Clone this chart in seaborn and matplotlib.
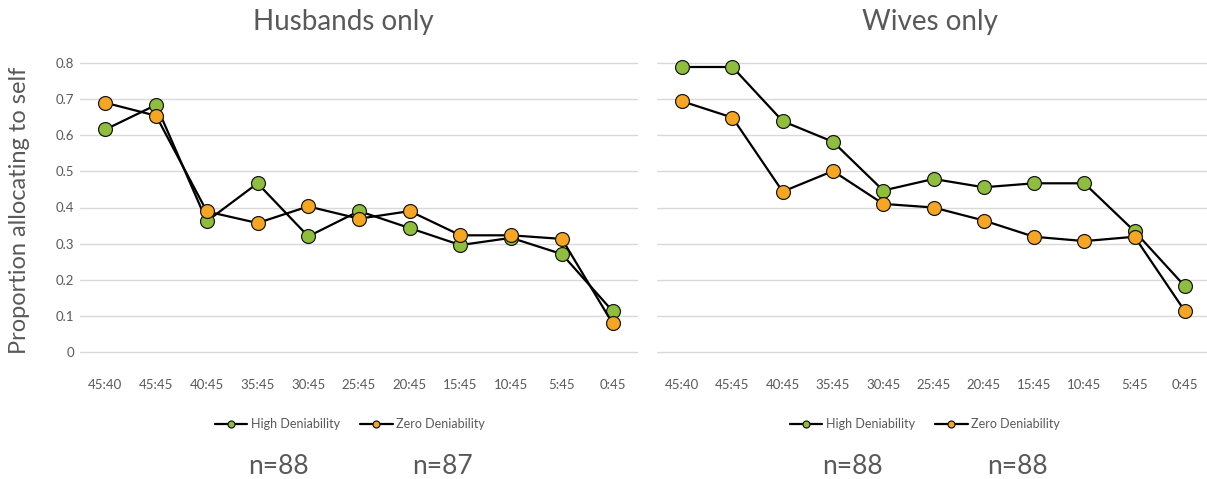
import matplotlib
matplotlib.use("Agg")
import matplotlib.pyplot as plt
import seaborn as sns
import pandas as pd

categories = ["45:40", "45:45", "40:45", "35:45", "30:45", "25:45",
              "20:45", "15:45", "10:45", "5:45", "0:45"]

husbands_high = [0.616, 0.684, 0.362, 0.467, 0.320, 0.390, 0.343, 0.296, 0.316, 0.271, 0.113]
husbands_zero = [0.690, 0.654, 0.389, 0.357, 0.403, 0.369, 0.390, 0.323, 0.323, 0.313, 0.079]
wives_high = [0.789, 0.789, 0.639, 0.582, 0.447, 0.479, 0.456, 0.467, 0.467, 0.334, 0.182]
wives_zero = [0.694, 0.649, 0.444, 0.501, 0.410, 0.400, 0.364, 0.319, 0.307, 0.319, 0.113]

panel_titles = ["Husbands only", "Wives only"]
series_names = ["High Deniability", "Zero Deniability"]
n_labels = [["n=88", "n=87"], ["n=88", "n=88"]]
y_ticks = [0, 0.1, 0.2, 0.3, 0.4, 0.5, 0.6, 0.7, 0.8]
y_label = "Proportion allocating to self"

GREEN = "#8FBE3F"
ORANGE = "#F6A623"
GRAY = "#595959"
GRID = "#D9D9D9"

sns.set_theme(style="white")
plt.rcParams["font.family"] = ["Lato", "DejaVu Sans"]

W, H = 1207, 479
fig = plt.figure(figsize=(W / 100, H / 100), dpi=100)

def fx(px):
    return px / W

def fy(py):
    return 1 - py / H

ax_bottom = fy(359.2)
ax_height = fy(55.8) - fy(359.2)
axes = [
    fig.add_axes([fx(80), ax_bottom, fx(638 - 80), ax_height]),
    fig.add_axes([fx(657), ax_bottom, fx(1207 - 657), ax_height]),
]

panels = [(husbands_high, husbands_zero), (wives_high, wives_zero)]
for i, (ax, (hi, zr)) in enumerate(zip(axes, panels)):
    df = pd.DataFrame({"cond": categories + categories,
                       "val": hi + zr,
                       "series": [series_names[0]] * len(categories) + [series_names[1]] * len(categories)})
    for name, col in zip(series_names, [GREEN, ORANGE]):
        sub = df[df["series"] == name]
        sns.lineplot(data=sub, x="cond", y="val", ax=ax, sort=False,
                     color="black", linewidth=1.6, marker="o", markersize=10,
                     markerfacecolor=col, markeredgecolor="#1a1a1a",
                     markeredgewidth=0.9, label=name, zorder=3)
    ax.set_ylim(-0.02, 0.82)
    if i == 0:
        ax.set_xlim(-0.5, 10.5)
    else:
        ax.set_xlim(-0.5, 10.44)
    ax.set_yticks(y_ticks)
    ax.set_yticklabels([f"{t:g}" for t in y_ticks])
    ax.yaxis.grid(True, color=GRID, linewidth=1.0)
    ax.xaxis.grid(False)
    ax.set_axisbelow(True)
    for s in ax.spines.values():
        s.set_visible(False)
    ax.tick_params(axis="both", length=0, labelsize=9.5, labelcolor=GRAY)
    ax.tick_params(axis="x", pad=14)
    ax.tick_params(axis="y", pad=4)
    ax.set_xlabel("")
    ax.set_ylabel("")
    if i == 1:
        ax.set_yticklabels([])
    leg_cx = 350 if i == 0 else 925
    leg = ax.legend(loc="center", bbox_to_anchor=(fx(leg_cx), fy(424)),
                    bbox_transform=fig.transFigure, ncol=2, frameon=False,
                    fontsize=9, markerscale=0.5, handlelength=2.6,
                    handletextpad=0.3, columnspacing=1.6,
                    labelcolor=GRAY)

fig.text(fx(343), fy(22), panel_titles[0], ha="center", va="center",
         fontsize=20, color=GRAY)
fig.text(fx(930), fy(22), panel_titles[1], ha="center", va="center",
         fontsize=20, color=GRAY)
fig.text(fx(20), fy(210), y_label, rotation=90, ha="center", va="center",
         fontsize=17, color=GRAY)

n_pos = [[278, 442], [852, 1017]]
for labs, xs in zip(n_labels, n_pos):
    for lab, x in zip(labs, xs):
        fig.text(fx(x), fy(466), lab, ha="center", va="center",
                 fontsize=19, color=GRAY)

fig.savefig("out.png", dpi=100)
